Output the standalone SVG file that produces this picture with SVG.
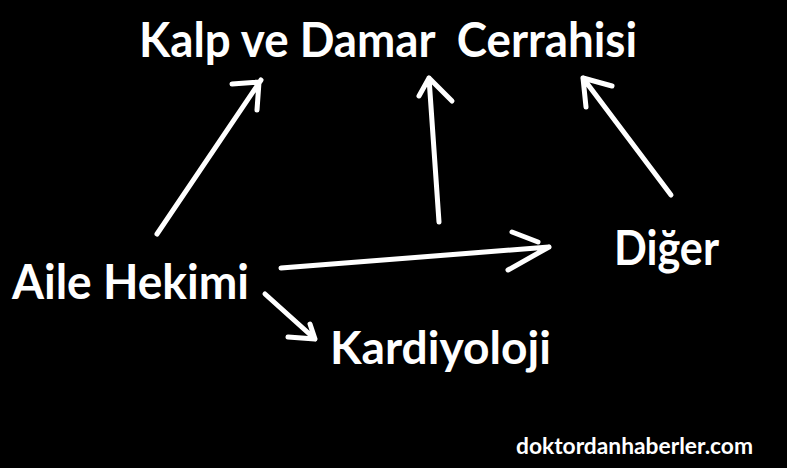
<svg xmlns="http://www.w3.org/2000/svg" width="787" height="468" viewBox="0 0 787 468">
<style>
.t{font-family:Lato,"Open Sans","Liberation Sans",sans-serif;font-weight:bold;fill:#ffffff;}
.a{stroke:#ffffff;stroke-width:5;stroke-linecap:round;stroke-linejoin:round;fill:none;}
</style>
<rect x="0" y="0" width="787" height="468" fill="#000000"/>
<g id="connectors">
<path class="a" d="M157,234 L261,80 M232,84 L259,82 L257,110"/>
<path class="a" d="M439,222 L429,78 M419,96 L429,78 L452,101"/>
<path class="a" d="M671,195 L583,78 M586,107 L583,78 L612,86"/>
<path class="a" d="M281,268 L549,247 M512,232 L538,242 M508,270 L549,247"/>
<path class="a" d="M265,294 L315,339 M288,337 L315,339 L310,324"/>
</g>
<g id="node-kalp"><text class="t" x="139" y="57" font-size="47" textLength="498" lengthAdjust="spacingAndGlyphs" xml:space="preserve">Kalp ve Damar  Cerrahisi</text></g>
<g id="node-aile"><text class="t" x="12" y="299" font-size="47" textLength="237" lengthAdjust="spacingAndGlyphs">Aile Hekimi</text></g>
<g id="node-diger"><text class="t" x="614" y="265" font-size="47" textLength="105" lengthAdjust="spacingAndGlyphs">Diğer</text></g>
<g id="node-kardiyoloji"><text class="t" x="330" y="364" font-size="45" textLength="221" lengthAdjust="spacingAndGlyphs">Kardiyoloji</text></g>
<g id="footer"><text class="t" x="516" y="454" font-size="22" textLength="237" lengthAdjust="spacingAndGlyphs">doktordanhaberler.com</text></g>
</svg>
